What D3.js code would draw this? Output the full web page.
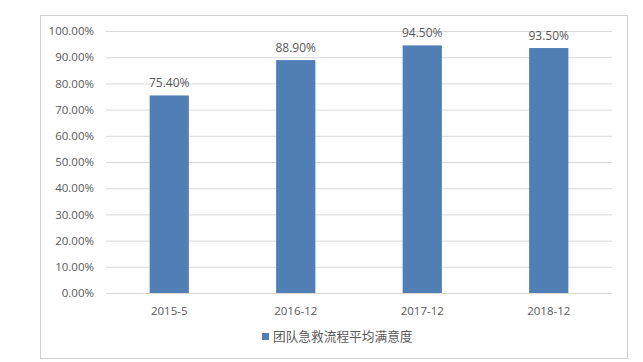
<!DOCTYPE html>
<html>
<head>
<meta charset="utf-8">
<script src="https://cdn.jsdelivr.net/npm/d3@7"></script>
<style>
  body { margin: 0; background: #fff; }
  text { font-family: "Open Sans", "Noto Sans CJK SC", sans-serif; fill: #595959; }
</style>
</head>
<body>
<svg id="chart"></svg>
<script>
const categories = ["2015-5", "2016-12", "2017-12", "2018-12"];
const values = [0.754, 0.889, 0.945, 0.935];
const yTicks = [0, 0.1, 0.2, 0.3, 0.4, 0.5, 0.6, 0.7, 0.8, 0.9, 1.0];
const seriesName = "团队急救流程平均满意度";

const WIDTH = 643;
const HEIGHT = 362;
const MARGINS = { left: 106, right: 31, top: 31, bottom: 69 };
const BAR_COLOR = "#4f7fb4";

const svg = d3.select("#chart").attr("width", WIDTH).attr("height", HEIGHT);

// outer frame
svg.append("rect")
  .attr("x", 40.5).attr("y", 15.5)
  .attr("width", 587).attr("height", 343)
  .attr("fill", "#fff")
  .attr("stroke", "#d0d0d0");

const x = d3.scaleBand()
  .domain(categories)
  .range([MARGINS.left, WIDTH - MARGINS.right])
  .paddingInner(0.69)
  .paddingOuter(0.345);

const y = d3.scaleLinear()
  .domain([0, 1])
  .range([HEIGHT - MARGINS.bottom, MARGINS.top]);

// gridlines + y labels
const yAxis = d3.axisLeft(y)
  .tickValues(yTicks)
  .tickFormat(d3.format(".2%"))
  .tickSize(-(WIDTH - MARGINS.left - MARGINS.right))
  .tickPadding(12);

svg.append("g")
  .attr("transform", `translate(${MARGINS.left}, 0)`)
  .call(yAxis)
  .call(g => g.select(".domain").remove())
  .call(g => g.selectAll(".tick line").attr("stroke", "#d9d9d9"))
  .call(g => g.selectAll(".tick text").attr("font-size", 11.5).attr("fill", "#595959"));

// bars
svg.append("g")
  .selectAll("rect")
  .data(values)
  .join("rect")
  .attr("x", (d, i) => x(categories[i]))
  .attr("y", d => y(d))
  .attr("width", x.bandwidth())
  .attr("height", d => y(0) - y(d))
  .attr("fill", BAR_COLOR);

// value labels
svg.append("g")
  .selectAll("text")
  .data(values)
  .join("text")
  .attr("x", (d, i) => x(categories[i]) + x.bandwidth() / 2)
  .attr("y", d => y(d) - 8)
  .attr("text-anchor", "middle")
  .attr("font-size", 12)
  .text(d => d3.format(".2%")(d));

// x labels
const xAxis = d3.axisBottom(x).tickSize(0).tickPadding(14);
svg.append("g")
  .attr("transform", `translate(0, ${y(0)})`)
  .call(xAxis)
  .call(g => g.select(".domain").remove())
  .call(g => g.selectAll(".tick text").attr("font-size", 11.5).attr("fill", "#595959"));

// legend
const legend = svg.append("g").attr("transform", "translate(262, 337)");
legend.append("rect")
  .attr("x", 0).attr("y", -4)
  .attr("width", 7).attr("height", 7)
  .attr("fill", BAR_COLOR);
legend.append("text")
  .attr("x", 11).attr("y", 0)
  .attr("dy", "0.35em")
  .attr("font-size", 12.7)
  .text(seriesName);
</script>
</body>
</html>
